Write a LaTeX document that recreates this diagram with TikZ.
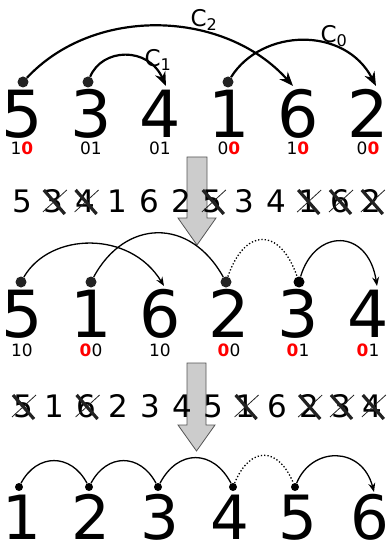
\documentclass[tikz,border=0pt]{standalone}
\usepackage{fontspec}
\setmainfont{DejaVu Sans}
\usetikzlibrary{arrows.meta}
\definecolor{dotgray}{HTML}{222222}
\definecolor{blockfill}{HTML}{CCCCCC}
\definecolor{blockedge}{HTML}{555555}
\definecolor{strikegray}{HTML}{222222}
\begin{document}
\begin{tikzpicture}[x=1pt,y=-1pt,
  bigdigit/.style={font=\fontsize{65}{65}\selectfont, anchor=base, inner sep=0pt},
  lastdigit/.style={font=\fontsize{61}{61}\selectfont, anchor=base, inner sep=0pt},
  smalldigit/.style={font=\fontsize{31}{31}\selectfont, anchor=base, inner sep=0pt},
  bits/.style={font=\fontsize{17}{17}\selectfont, anchor=base, inner sep=0pt},
  clabel/.style={font=\fontsize{23}{23}\selectfont, anchor=base, inner sep=0pt},
  dot/.style={circle, fill=dotgray, inner sep=0pt, minimum size=11pt},
  smalldot/.style={circle, fill=black, inner sep=0pt, minimum size=8pt},
  bigarc/.style={line width=2.2pt, -{Stealth[length=14pt,width=11pt,inset=4.5pt]}},
  midarc/.style={line width=1.3pt},
  midarrow/.style={line width=1.3pt, -{Stealth[length=9pt,width=7pt,inset=3pt]}},
  dotarc/.style={line width=1.3pt, dotted},
  blockarrow/.style={fill=blockfill, draw=blockedge, line width=0.8pt},
  strikemark/.pic={
    \draw[strikegray, line width=3.2pt] (-10,-11) -- (11,13);
    \draw[strikegray, line width=0.8pt] (-11,11) -- (13,-11);
  }
]
\useasboundingbox (0,0) rectangle (387,540);

\newcommand\rb[1]{\textbf{\color{red}#1}}

% ---- first sequence with its chain pointers
\foreach \d/\x [count=\i] in {5/22,3/91,4/160,1/229,6/298,2/368}
  \node[bigdigit] (a\i) at (\x,138) {\d};
\node[bits] (ab1) at (22,155) {1\rb{0}};
\node[bits] (ab2) at (91,155) {01};
\node[bits] (ab3) at (160,155) {01};
\node[bits] (ab4) at (229,155) {0\rb{0}};
\node[bits] (ab5) at (298,155) {1\rb{0}};
\node[bits] (ab6) at (368,155) {0\rb{0}};

\node[dot] (ad1) at (23,82) {};
\node[dot] (ad2) at (88,82) {};
\node[dot] (ad4) at (228,82) {};
\coordinate (at5) at (293,86);
\coordinate (at3) at (166,86);
\coordinate (at6) at (376,86);

\draw[bigarc] (ad1) .. controls (95,5) and (225,10) .. (at5);
\draw[bigarc] (ad2) .. controls (102,48) and (148,46) .. (at3);
\draw[bigarc] (ad4) .. controls (262,28) and (345,26) .. (at6);

\node[clabel] (c2) at (204,27) {C\textsubscript{2}};
\node[clabel] (c1) at (158,67) {C\textsubscript{1}};
\node[clabel] (c0) at (334,43) {C\textsubscript{0}};

% ---- first block arrow
\draw[blockarrow] (187,157) -- (207,157) -- (207,218) -- (216,218) -- (197,245)
  -- (178,218) -- (187,218) -- cycle;

% ---- doubled sequence with struck entries
\foreach \d [count=\i] in {5,3,4,1,6,2,5,3,4,1,6,2}
  \node[smalldigit] (s\i) at ({22+31.8*(\i-1)},212) {\d};
\foreach \i in {2,3,7,10,11,12}
  \pic at ({22+31.8*(\i-1)},201) {strikemark};

% ---- second sequence
\foreach \d/\x [count=\i] in {5/22,1/91,6/160,2/229,3/298,4/368}
  \node[bigdigit] (b\i) at (\x,337) {\d};
\node[bits] (bb1) at (22,356) {10};
\node[bits] (bb2) at (91,356) {\rb{0}0};
\node[bits] (bb3) at (160,356) {10};
\node[bits] (bb4) at (229,356) {\rb{0}0};
\node[bits] (bb5) at (298,356) {\rb{0}1};
\node[bits] (bb6) at (368,356) {\rb{0}1};

\node[dot] (bd1) at (21,282) {};
\node[dot] (bd2) at (91,282) {};
\node[dot] (bd4) at (226,282) {};
\node[dot, fill=black] (bd5) at (299,282) {};
\coordinate (bt3) at (164,286);
\coordinate (bt6) at (377,286);

\draw[midarrow] (bd1) .. controls (50,232) and (130,230) .. (bt3);
\draw[midarc] (bd2) .. controls (125,219) and (190,217) .. (bd4);
\draw[dotarc] (bd4) .. controls (245,227) and (280,227) .. (bd5);
\draw[midarrow] (bd5) .. controls (315,228) and (368,228) .. (bt6);

% ---- second block arrow
\draw[blockarrow] (187,363) -- (206,363) -- (206,425) -- (215,425) -- (196.5,451)
  -- (178,425) -- (187,425) -- cycle;

% ---- doubled sequence with struck entries
\foreach \d [count=\i] in {5,1,6,2,3,4,5,1,6,2,3,4}
  \node[smalldigit] (t\i) at ({23+31.8*(\i-1)},417) {\d};
\foreach \i in {1,3,8,10,11,12}
  \pic at ({23+31.8*(\i-1)},406) {strikemark};

% ---- sorted sequence
\foreach \d/\x [count=\i] in {1/22,2/91,3/160,4/230,5/298,6/370}
  \node[lastdigit] (c\i) at (\x,539) {\d};

\node[smalldot] (cd1) at (19,487) {};
\node[smalldot] (cd2) at (89,487) {};
\node[smalldot] (cd3) at (158,487) {};
\node[smalldot] (cd4) at (233,487) {};
\node[smalldot] (cd5) at (295,487) {};
\coordinate (ct6) at (374,492);

\draw[midarc] (cd1) .. controls (37,453) and (71,453) .. (cd2);
\draw[midarc] (cd2) .. controls (107,453) and (140,453) .. (cd3);
\draw[midarc] (cd3) .. controls (178,449) and (213,449) .. (cd4);
\draw[dotarc] (cd4) .. controls (250,446) and (278,446) .. (cd5);
\draw[midarrow] (cd5) .. controls (312,446) and (362,446) .. (ct6);
\end{tikzpicture}
\end{document}
